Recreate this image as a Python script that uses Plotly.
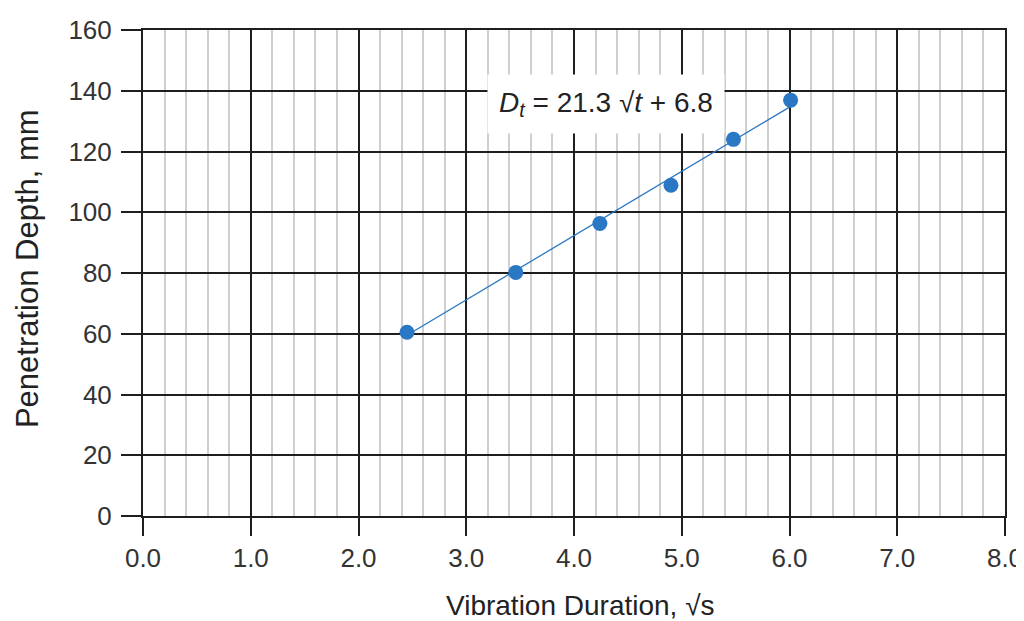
import plotly.graph_objects as go

# Data
sqrt_time = [2.45, 3.46, 4.24, 4.90, 5.48, 6.01]
depth_mm = [60.5, 80.2, 96.3, 108.9, 124.0, 136.9]
fit_x = [2.45, 6.0]
fit_y = [59.5, 134.6]
x_ticks = [0, 1, 2, 3, 4, 5, 6, 7, 8]
x_tick_labels = ["0.0", "1.0", "2.0", "3.0", "4.0", "5.0", "6.0", "7.0", "8.0"]
y_ticks = [0, 20, 40, 60, 80, 100, 120, 140, 160]

FONT = "Liberation Sans, Arial, sans-serif"
BLUE = "#2a77c3"
DARK = "#1e1e1e"

fig = go.Figure()
fig.add_trace(go.Scatter(x=fit_x, y=fit_y, mode="lines",
                         line=dict(color=BLUE, width=1.3), hoverinfo="skip",
                         showlegend=False))
fig.add_trace(go.Scatter(x=sqrt_time, y=depth_mm, mode="markers",
                         marker=dict(color=BLUE, size=15), showlegend=False))

fig.add_annotation(x=4.30, y=135.5, xref="x", yref="y", showarrow=False,
                   text="<i>D</i><sub><i>t</i></sub> = 21.3 √<i>t</i> + 6.8",
                   font=dict(family=FONT, size=28, color="#222"),
                   bgcolor="white", width=228, height=50, borderpad=4)

fig.add_annotation(x=0.507, y=-0.185, xref="paper", yref="paper", showarrow=False,
                   text="Vibration Duration, √s", xanchor="center", yanchor="middle",
                   font=dict(family=FONT, size=28, color="#222"))
fig.add_annotation(x=-0.1346, y=0.51, xref="paper", yref="paper", showarrow=False,
                   text="Penetration Depth, mm", textangle=-90,
                   xanchor="center", yanchor="middle",
                   font=dict(family=FONT, size=31, color="#222"))

fig.update_xaxes(range=[0, 8], tickvals=x_ticks, ticktext=x_tick_labels,
                 automargin=False,
                 showgrid=True, gridcolor=DARK, gridwidth=2,
                 minor=dict(dtick=0.2, showgrid=True, gridcolor="#cfcfcf", gridwidth=2),
                 ticks="outside", ticklen=18, tickwidth=2, tickcolor=DARK,
                 ticklabelstandoff=0,
                 showline=True, linecolor=DARK, linewidth=2, mirror=True,
                 zeroline=False,
                 tickfont=dict(family=FONT, size=26, color="#333"))
fig.update_yaxes(range=[0, 160], tickvals=y_ticks,
                 automargin=False,
                 showgrid=True, gridcolor=DARK, gridwidth=1.6,
                 ticks="outside", ticklen=20, tickwidth=2, tickcolor=DARK,
                 ticklabelstandoff=4,
                 showline=True, linecolor=DARK, linewidth=2, mirror=True,
                 zeroline=False,
                 tickfont=dict(family=FONT, size=26, color="#333"))

# page body has an 8px margin, so the figure is sized/offset to compensate
fig.update_layout(width=1016, height=613, autosize=False,
                  margin=dict(l=135, r=19, t=22, b=105),
                  paper_bgcolor="white", plot_bgcolor="white")

fig.write_html("out.html")
